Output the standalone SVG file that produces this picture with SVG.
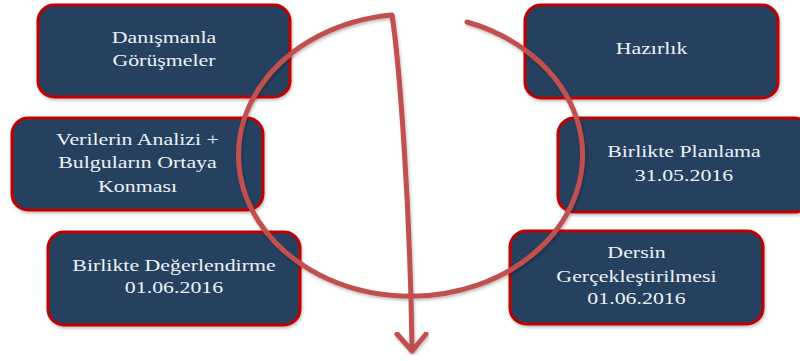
<svg xmlns="http://www.w3.org/2000/svg" width="800" height="361" viewBox="0 0 800 361">
  <defs>
    <filter id="soft" x="-10%" y="-10%" width="120%" height="130%">
      <feDropShadow dx="1" dy="2" stdDeviation="1.5" flood-color="#000" flood-opacity="0.25"/>
    </filter>
    <style>
      .box { fill: #27405F; stroke: #C00000; stroke-width: 3; filter: url(#soft); }
      .lbl { font-family: "Liberation Serif", "Times New Roman", serif; font-size: 17.5px; fill: #EEF1F6; text-anchor: middle; }
      .flow { fill: none; stroke: #C0504D; stroke-width: 5; stroke-linecap: round; stroke-linejoin: round; filter: url(#soft); }
    </style>
  </defs>
  <rect width="800" height="361" fill="#FFFFFF"/>

  <g id="node-danismanla">
    <rect class="box" x="38" y="5" width="252" height="92" rx="16"/>
    <g transform="translate(164,0) scale(1.25,1)">
      <text class="lbl" x="0" y="43">Danışmanla</text>
      <text class="lbl" x="0" y="66">Görüşmeler</text>
    </g>
  </g>

  <g id="node-analiz">
    <rect class="box" x="12" y="118" width="251" height="92" rx="16"/>
    <g transform="translate(137.5,0) scale(1.25,1)">
      <text class="lbl" x="0" y="145">Verilerin Analizi +</text>
      <text class="lbl" x="0" y="168">Bulguların Ortaya</text>
      <text class="lbl" x="0" y="192">Konması</text>
    </g>
  </g>

  <g id="node-degerlendirme">
    <rect class="box" x="48" y="232" width="252" height="93" rx="16"/>
    <g transform="translate(174,0) scale(1.25,1)">
      <text class="lbl" x="0" y="271">Birlikte Değerlendirme</text>
      <text class="lbl" x="0" y="293">01.06.2016</text>
    </g>
  </g>

  <g id="node-hazirlik">
    <rect class="box" x="525" y="5" width="253" height="93" rx="16"/>
    <g transform="translate(651.5,0) scale(1.25,1)">
      <text class="lbl" x="0" y="54">Hazırlık</text>
    </g>
  </g>

  <g id="node-planlama">
    <rect class="box" x="558" y="118" width="252" height="94" rx="16"/>
    <g transform="translate(684,0) scale(1.25,1)">
      <text class="lbl" x="0" y="157">Birlikte Planlama</text>
      <text class="lbl" x="0" y="181">31.05.2016</text>
    </g>
  </g>

  <g id="node-ders">
    <rect class="box" x="510" y="231" width="253" height="93" rx="16"/>
    <g transform="translate(636.5,0) scale(1.25,1)">
      <text class="lbl" x="0" y="258">Dersin</text>
      <text class="lbl" x="0" y="282">Gerçekleştirilmesi</text>
      <text class="lbl" x="0" y="304">01.06.2016</text>
    </g>
  </g>

  <g id="connectors">
    <path class="flow" d="M467,22 A172,141 0 1 1 392,15 C399,60 410,200 412,348"/>
    <polyline class="flow" points="397,334 412,351 426,334" stroke-linejoin="miter"/>
  </g>
</svg>
